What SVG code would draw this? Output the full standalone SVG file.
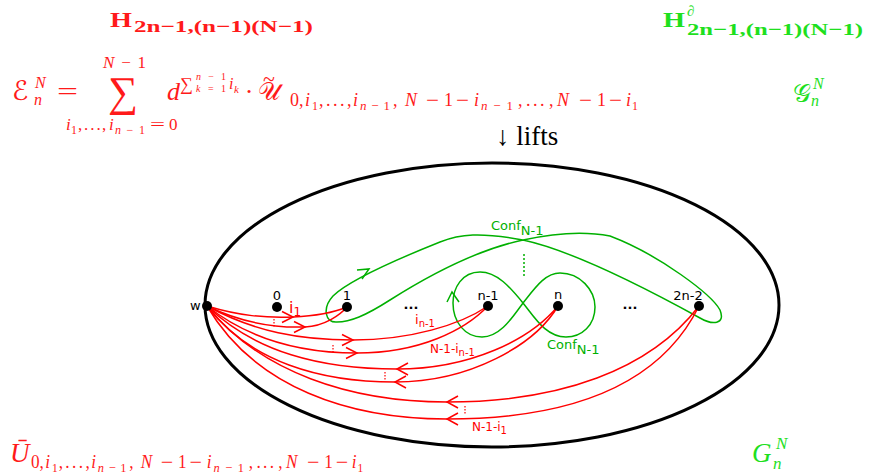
<svg xmlns="http://www.w3.org/2000/svg" width="870" height="476" viewBox="0 0 870 476">
<defs>
<style>
.m{font-family:"Liberation Serif","DejaVu Serif",serif}
.it{font-style:italic}
.bd{font-weight:bold}
.red{fill:#ff1a1a}
.lime{fill:#1ee01e}
.scr{font-family:"DejaVu Sans","DejaVu Serif",serif}
.lbl{font-family:"DejaVu Sans",sans-serif;font-size:13px;fill:#000}
.rc{fill:none;stroke:#ff0000;stroke-width:1.5}
.gc{fill:none;stroke:#00b000;stroke-width:1.5}
.rl{font-family:"DejaVu Sans",sans-serif;fill:#ff0000}
.gl{font-family:"DejaVu Sans",sans-serif;fill:#00b000;font-size:13px}
.rdot{stroke:#ff0000;stroke-width:1.2;stroke-dasharray:1.5,1.5}
</style>
<path id="ar" d="M-11,-5.5 L0,0 L-11,5.5"/>
<path id="al" d="M11,-6 L0,0 L11,6"/>
</defs>
<rect width="870" height="476" fill="#fff"/>

<g id="title-left" class="m bd red">
<text x="110" y="27" font-size="22" textLength="22" lengthAdjust="spacingAndGlyphs">H</text>
<text x="134" y="32" font-size="17" textLength="179" lengthAdjust="spacingAndGlyphs">2n−1,(n−1)(N−1)</text>
</g>
<g id="title-right" class="m bd lime">
<text x="663" y="27" font-size="22" textLength="22" lengthAdjust="spacingAndGlyphs">H</text>
<text x="687" y="16" font-size="15" font-weight="normal" class="it">∂</text>
<text x="687" y="35" font-size="17" textLength="176" lengthAdjust="spacingAndGlyphs">2n−1,(n−1)(N−1)</text>
</g>

<g id="formula" class="m red">
<text x="12" y="100" font-size="27" class="scr">ℰ</text>
<text x="35" y="88" font-size="16" class="it">N</text>
<text x="34" y="105" font-size="16" class="it">n</text>
<text x="57" y="100" font-size="26" textLength="21" lengthAdjust="spacingAndGlyphs">=</text>
<text x="123" y="106" font-size="42" text-anchor="middle">∑</text>
<text x="103" y="68" font-size="17" textLength="43" lengthAdjust="spacing"><tspan class="it">N</tspan>−1</text>
<g id="sum-lower" font-size="17">
<text x="66" y="130" class="it">i</text>
<text x="71" y="134" font-size="12">1</text>
<text x="78" y="130">,</text>
<text x="84" y="130" letter-spacing="2">...</text>
<text x="102" y="130">,</text>
<text x="109" y="130" class="it">i</text>
<text x="115" y="134" font-size="12" textLength="30" lengthAdjust="spacing"><tspan class="it">n</tspan>−1</text>
<text x="150" y="130" textLength="15" lengthAdjust="spacingAndGlyphs">=</text>
<text x="169" y="130">0</text>
</g>
<text x="167" y="100" font-size="26" class="it">d</text>
<text x="180" y="90" font-size="18">∑</text>
<text x="196" y="80" font-size="10" textLength="30" lengthAdjust="spacing"><tspan class="it">n</tspan>−1</text>
<text x="196" y="92" font-size="10" textLength="30" lengthAdjust="spacing"><tspan class="it">k</tspan>=1</text>
<text x="229" y="89" font-size="16" class="it">i</text>
<text x="234" y="93" font-size="11" class="it">k</text>
<text x="249" y="100" font-size="26" text-anchor="middle">·</text>
<text x="258" y="100" font-size="25" class="scr">𝒰</text>
<text x="263" y="86" font-size="22">~</text>
<g id="sub-top" font-size="18">
<text x="290" y="106">0,</text>
<text x="305" y="106" class="it">i</text>
<text x="312" y="110" font-size="12">1</text>
<text x="319" y="106">,</text>
<text x="326" y="106" letter-spacing="2.5">...</text>
<text x="347" y="106">,</text>
<text x="353" y="106" class="it">i</text>
<text x="360" y="110" font-size="13" textLength="30" lengthAdjust="spacing"><tspan class="it">n</tspan>−1</text>
<text x="393" y="106">,</text>
<text x="405" y="106" class="it">N</text>
<text x="426" y="106" textLength="13" lengthAdjust="spacingAndGlyphs">−</text>
<text x="444" y="106">1</text>
<text x="456" y="106" textLength="13" lengthAdjust="spacingAndGlyphs">−</text>
<text x="474" y="106" class="it">i</text>
<text x="481" y="110" font-size="13" textLength="32" lengthAdjust="spacing"><tspan class="it">n</tspan>−1</text>
<text x="518" y="106">,</text>
<text x="526" y="106" letter-spacing="2.5">...</text>
<text x="549" y="106">,</text>
<text x="557" y="106" class="it">N</text>
<text x="579" y="106" textLength="13" lengthAdjust="spacingAndGlyphs">−</text>
<text x="597" y="106">1</text>
<text x="609" y="106" textLength="13" lengthAdjust="spacingAndGlyphs">−</text>
<text x="626" y="106" class="it">i</text>
<text x="632" y="110" font-size="12">1</text>
</g>
</g>

<g id="formula-G" class="m lime">
<text x="793" y="102" font-size="25" class="scr">𝒢</text>
<text x="813" y="89" font-size="16" class="it">N</text>
<text x="811" y="106" font-size="16" class="it">n</text>
</g>

<g id="lifts" class="m" fill="#000">
<text x="496" y="145" font-size="27">↓ lifts</text>
</g>

<g id="bottom-U" class="m red">
<text x="10" y="462" font-size="27" class="it">Ū</text>
<g font-size="18" transform="translate(31,468) scale(0.955,1) translate(-290,-106)">
<text x="290" y="106">0,</text>
<text x="305" y="106" class="it">i</text>
<text x="312" y="110" font-size="12">1</text>
<text x="319" y="106">,</text>
<text x="326" y="106" letter-spacing="2.5">...</text>
<text x="347" y="106">,</text>
<text x="353" y="106" class="it">i</text>
<text x="360" y="110" font-size="13" textLength="30" lengthAdjust="spacing"><tspan class="it">n</tspan>−1</text>
<text x="393" y="106">,</text>
<text x="405" y="106" class="it">N</text>
<text x="426" y="106" textLength="13" lengthAdjust="spacingAndGlyphs">−</text>
<text x="444" y="106">1</text>
<text x="456" y="106" textLength="13" lengthAdjust="spacingAndGlyphs">−</text>
<text x="474" y="106" class="it">i</text>
<text x="481" y="110" font-size="13" textLength="32" lengthAdjust="spacing"><tspan class="it">n</tspan>−1</text>
<text x="518" y="106">,</text>
<text x="526" y="106" letter-spacing="2.5">...</text>
<text x="549" y="106">,</text>
<text x="557" y="106" class="it">N</text>
<text x="579" y="106" textLength="13" lengthAdjust="spacingAndGlyphs">−</text>
<text x="597" y="106">1</text>
<text x="609" y="106" textLength="13" lengthAdjust="spacingAndGlyphs">−</text>
<text x="626" y="106" class="it">i</text>
<text x="632" y="110" font-size="12">1</text>
</g>
</g>

<g id="bottom-G" class="m lime">
<text x="752" y="462" font-size="27" class="it">G</text>
<text x="776" y="449" font-size="17" class="it">N</text>
<text x="773" y="469" font-size="17" class="it">n</text>
</g>

<g id="disk">
<ellipse cx="492" cy="305" rx="287" ry="142" fill="none" stroke="#000" stroke-width="3"/>
</g>

<g id="connectors">
<g id="green-loops">
<path class="gc" d="M337,322 C325,323 322,308 333,296 C345,284 380,266 440,242 C460,234 480,232 523,240 C570,250 640,285 700,318 C712,325 726,325 720,310 C712,295 660,255 610,236 C580,230 550,234 523,240 C490,247 450,262 390,300 C365,316 350,322 337,322 Z"/>
<polyline class="gc" points="357,270 369,269 362,279"/>
<path class="gc" d="M523,303 C510,287 497,272 480,272 C462,272 453,288 453,303 C453,322 465,337 482,337 C500,337 512,318 523,303 C535,288 545,273 560,273 C580,273 595,290 595,307 C595,325 582,337 566,337 C546,337 535,318 523,303 Z"/>
<polyline class="gc" points="447,302 452,292 459,302"/>
<line x1="524" y1="254" x2="524" y2="278" stroke="#00b000" stroke-width="1.5" stroke-dasharray="2,2"/>
</g>
<g id="red-paths">
<path class="rc" d="M207,306 C240,316 265,318 293,317 C315,316 335,312 347,307"/>
<path class="rc" d="M207,306 C240,322 275,328 305,327 C325,326 340,315 347,307"/>
<path class="rc" d="M207,306 C255,332 300,340 353,340 C410,340 460,325 488,306"/>
<path class="rc" d="M207,306 C250,340 300,353 357,353 C420,353 465,330 488,306"/>
<path class="rc" d="M207,306 C255,352 320,369 397,369 C470,369 530,340 558,306"/>
<path class="rc" d="M207,306 C250,362 320,382 395,382 C470,382 535,345 558,306"/>
<path class="rc" d="M207,306 C260,372 350,402 447,402 C560,402 650,370 699,306"/>
<path class="rc" d="M207,306 C255,388 350,419 447,419 C570,419 660,385 699,306"/>
<use href="#ar" class="rc" x="293" y="317"/>
<use href="#ar" class="rc" x="305" y="327"/>
<use href="#ar" class="rc" x="353" y="340"/>
<use href="#ar" class="rc" x="357" y="353"/>
<use href="#al" class="rc" x="397" y="369"/>
<use href="#al" class="rc" x="395" y="382"/>
<use href="#al" class="rc" x="447" y="402"/>
<use href="#al" class="rc" x="447" y="419"/>
<line class="rdot" x1="274" y1="319" x2="274" y2="328"/>
<line class="rdot" x1="333" y1="345" x2="333" y2="354"/>
<line class="rdot" x1="385" y1="372" x2="385" y2="381"/>
<line class="rdot" x1="465" y1="406" x2="465" y2="415"/>
</g>
<g id="path-labels">
<text class="gl" x="491" y="230">Conf<tspan dy="5">N-1</tspan></text>
<text class="gl" x="547" y="349">Conf<tspan dy="5">N-1</tspan></text>
<text class="rl" x="289" y="313" font-size="16">i<tspan font-size="12" dy="3">1</tspan></text>
<text class="rl" x="415" y="324" font-size="13">i<tspan font-size="10" dy="3">n-1</tspan></text>
<text class="rl" x="430" y="353" font-size="12">N-1-i<tspan font-size="10" dy="3">n-1</tspan></text>
<text class="rl" x="472" y="431" font-size="12">N-1-i<tspan font-size="10" dy="3">1</tspan></text>
</g>
</g>

<g id="node-w"><circle cx="207" cy="306" r="5"/><text class="lbl" x="190" y="310">w</text></g>
<g id="node-0"><circle cx="277" cy="307" r="5"/><text class="lbl" x="277" y="300" text-anchor="middle">0</text></g>
<g id="node-1"><circle cx="347" cy="307" r="5"/><text class="lbl" x="347" y="300" text-anchor="middle">1</text></g>
<g id="dots-1"><text class="lbl" x="411" y="309" font-size="15" font-weight="bold" text-anchor="middle">...</text></g>
<g id="node-n-1"><circle cx="488" cy="306" r="5"/><text class="lbl" x="488" y="300" text-anchor="middle">n-1</text></g>
<g id="node-n"><circle cx="558" cy="306" r="5"/><text class="lbl" x="558" y="299" text-anchor="middle">n</text></g>
<g id="dots-2"><text class="lbl" x="630" y="309" font-size="15" font-weight="bold" text-anchor="middle">...</text></g>
<g id="node-2n-2"><circle cx="699" cy="306" r="5"/><text class="lbl" x="688" y="300" text-anchor="middle">2n-2</text></g>
</svg>
